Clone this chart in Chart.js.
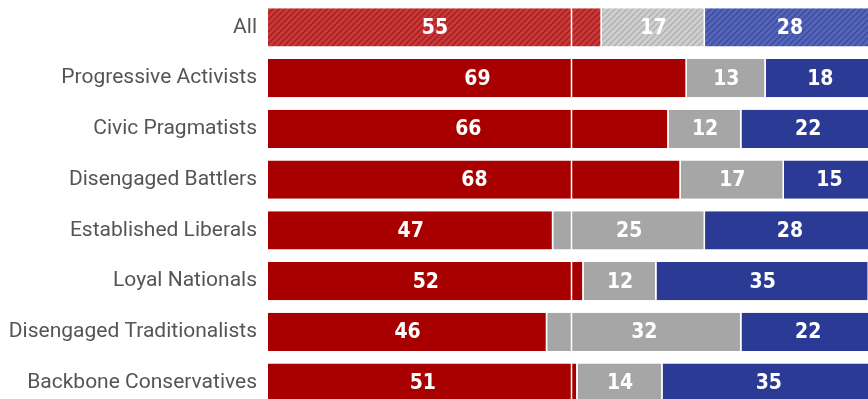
<!DOCTYPE html>
<html lang="en">
    <head>
        <meta charset="UTF-8" />
        <title>Segments - stacked bars</title>
        <style>
            html, body {
                margin: 0;
                padding: 0;
                background: #ffffff;
                overflow: hidden;
            }
            .chartBox {
                position: absolute;
                left: 0;
                top: 0;
                width: 875px;
                height: 408px;
            }
        </style>
    </head>
    <body>
        <div class="chartBox">
            <canvas id="segmentChart"></canvas>
        </div>

        <script src="https://cdn.jsdelivr.net/npm/chart.js"></script>
        <script>
            // data
            const segments = [
                "All",
                "Progressive Activists",
                "Civic Pragmatists",
                "Disengaged Battlers",
                "Established Liberals",
                "Loyal Nationals",
                "Disengaged Traditionalists",
                "Backbone Conservatives",
            ];
            const redShare = [55, 69, 66, 68, 47, 52, 46, 51];
            const greyShare = [17, 13, 12, 17, 25, 12, 32, 14];
            const blueShare = [28, 18, 22, 15, 28, 35, 22, 35];
            const midPoint = 50;

            // hatched fill for the "All" row
            function hatch(base, stripe) {
                const c = document.createElement("canvas");
                c.width = 6;
                c.height = 6;
                const ctx = c.getContext("2d");
                ctx.fillStyle = base;
                ctx.fillRect(0, 0, 6, 6);
                ctx.strokeStyle = stripe;
                ctx.lineWidth = 1.3;
                ctx.beginPath();
                ctx.moveTo(-1, 7);
                ctx.lineTo(7, -1);
                ctx.moveTo(-1, 1);
                ctx.lineTo(1, -1);
                ctx.moveTo(5, 7);
                ctx.lineTo(7, 5);
                ctx.stroke();
                return document.createElement("canvas").getContext("2d").createPattern(c, "repeat");
            }

            function rowColors(solid, base, stripe) {
                return segments.map(function (s, i) {
                    return i === 0 ? hatch(base, stripe) : solid;
                });
            }

            function makeSet(label, values, solid, base, stripe) {
                return {
                    label: label,
                    data: values,
                    backgroundColor: rowColors(solid, base, stripe),
                    borderColor: "#ffffff",
                    borderWidth: { left: 0, right: 1.5, top: 0, bottom: 0 },
                    borderSkipped: false,
                    categoryPercentage: 0.75,
                    barPercentage: 1,
                };
            }

            // white line at 50% + numbers inside segments
            const overlay = {
                id: "overlay",
                afterDatasetsDraw(chart) {
                    const ctx = chart.ctx;
                    const x = chart.scales.x.getPixelForValue(midPoint);
                    const area = chart.chartArea;
                    ctx.save();
                    ctx.strokeStyle = "#ffffff";
                    ctx.lineWidth = 1.5;
                    ctx.beginPath();
                    ctx.moveTo(x, area.top);
                    ctx.lineTo(x, area.bottom);
                    ctx.stroke();

                    ctx.fillStyle = "#ffffff";
                    ctx.font = "bold 21px 'Liberation Sans Narrow', 'DejaVu Sans Condensed', sans-serif";
                    ctx.textAlign = "center";
                    ctx.textBaseline = "middle";
                    chart.data.datasets.forEach(function (ds, d) {
                        chart.getDatasetMeta(d).data.forEach(function (bar, i) {
                            const mid = (bar.base + bar.x) / 2;
                            ctx.fillText(ds.data[i], mid, bar.y + 1);
                        });
                    });
                    ctx.restore();
                },
            };

            const config = {
                type: "bar",
                data: {
                    labels: segments,
                    datasets: [
                        makeSet("Red", redShare, "#a80000", "#c73a3a", "#a81c1c"),
                        makeSet("Grey", greyShare, "#a6a6a6", "#cfcfcf", "#b0b0b0"),
                        makeSet("Blue", blueShare, "#2b3a94", "#5566b8", "#3a4aa0"),
                    ],
                },
                options: {
                    indexAxis: "y",
                    responsive: true,
                    maintainAspectRatio: false,
                    animation: false,
                    layout: { padding: { top: 2, left: 0, right: 0, bottom: 0 } },
                    plugins: {
                        legend: { display: false },
                        tooltip: { enabled: false },
                    },
                    scales: {
                        x: {
                            stacked: true,
                            min: 0,
                            max: 100,
                            display: false,
                        },
                        y: {
                            stacked: true,
                            grid: { display: false, drawTicks: false },
                            border: { display: false },
                            ticks: {
                                color: "#555555",
                                padding: 11,
                                font: { family: "Roboto, 'Noto Sans', sans-serif", size: 21 },
                            },
                            afterFit(scale) {
                                scale.width = 268;
                                // no extra room above/below for the label halves
                                scale.paddingTop = 0;
                                scale.paddingBottom = 0;
                            },
                        },
                    },
                },
                plugins: [overlay],
            };

            new Chart(document.getElementById("segmentChart"), config);
        </script>
    </body>
</html>
